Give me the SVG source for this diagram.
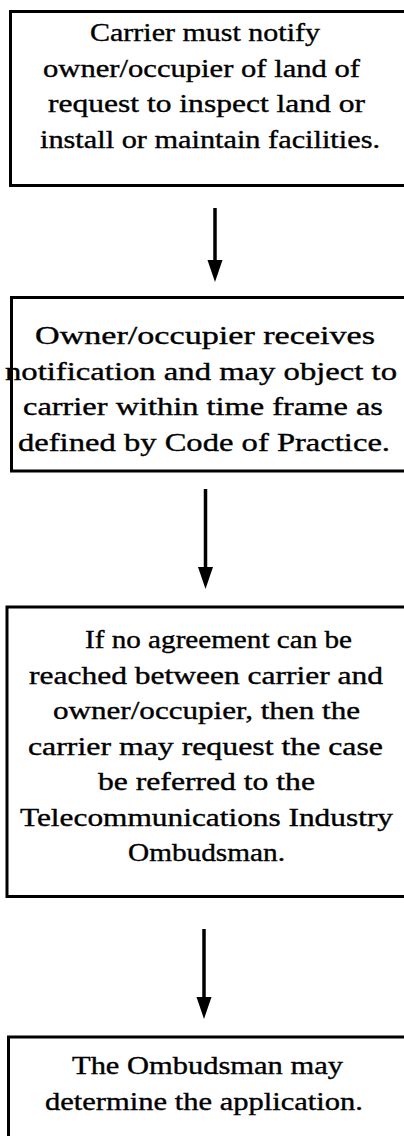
<svg xmlns="http://www.w3.org/2000/svg" width="404" height="1136" viewBox="0 0 404 1136">
<style>
.box{fill:#fff;stroke:#000;stroke-width:3}
.t{font-family:"Liberation Serif","Times New Roman",serif;font-size:24.5px;fill:#000;stroke:#000;stroke-width:0.35}
.c{stroke:#000;stroke-width:3.5;fill:none}
</style>
<defs>
<marker id="ah" markerUnits="userSpaceOnUse" markerWidth="24" markerHeight="16" refX="0" refY="7.5" orient="auto">
<path d="M0,0 L22,7.5 L0,15 Z" fill="#000"/>
</marker>
</defs>
<rect width="404" height="1136" fill="#fff"/>
<g id="connectors">
<line class="c" x1="215" y1="208" x2="215" y2="260" marker-end="url(#ah)"/>
<line class="c" x1="205.5" y1="489" x2="205.5" y2="567" marker-end="url(#ah)"/>
<line class="c" x1="204" y1="929" x2="204" y2="997" marker-end="url(#ah)"/>
</g>
<g id="node1">
<rect class="box" x="10.5" y="11.5" width="420" height="174"/>
<text class="t" x="90" y="41" textLength="230" lengthAdjust="spacingAndGlyphs">Carrier must notify</text>
<text class="t" x="43" y="76.5" textLength="317" lengthAdjust="spacingAndGlyphs">owner/occupier of land of</text>
<text class="t" x="48" y="112" textLength="317" lengthAdjust="spacingAndGlyphs">request to inspect land or</text>
<text class="t" x="40" y="147.5" textLength="340" lengthAdjust="spacingAndGlyphs">install or maintain facilities.</text>
</g>
<g id="node2">
<rect class="box" x="11.5" y="297.5" width="420" height="173.5"/>
<text class="t" x="35" y="344" textLength="340" lengthAdjust="spacingAndGlyphs">Owner/occupier receives</text>
<text class="t" x="5" y="379.5" textLength="392" lengthAdjust="spacingAndGlyphs">notification and may object to</text>
<text class="t" x="23" y="415" textLength="360" lengthAdjust="spacingAndGlyphs">carrier within time frame as</text>
<text class="t" x="18" y="450.5" textLength="372" lengthAdjust="spacingAndGlyphs">defined by Code of Practice.</text>
</g>
<g id="node3">
<rect class="box" x="7" y="607" width="420" height="289.5"/>
<text class="t" x="85" y="648" textLength="267" lengthAdjust="spacingAndGlyphs">If no agreement can be</text>
<text class="t" x="29" y="683.5" textLength="354" lengthAdjust="spacingAndGlyphs">reached between carrier and</text>
<text class="t" x="53" y="719" textLength="307" lengthAdjust="spacingAndGlyphs">owner/occupier, then the</text>
<text class="t" x="28" y="754.5" textLength="355" lengthAdjust="spacingAndGlyphs">carrier may request the case</text>
<text class="t" x="98" y="790" textLength="217" lengthAdjust="spacingAndGlyphs">be referred to the</text>
<text class="t" x="20" y="825.5" textLength="373" lengthAdjust="spacingAndGlyphs">Telecommunications Industry</text>
<text class="t" x="128" y="861" textLength="157" lengthAdjust="spacingAndGlyphs">Ombudsman.</text>
</g>
<g id="node4">
<rect class="box" x="8.5" y="1037" width="420" height="140"/>
<text class="t" x="72" y="1074" textLength="271" lengthAdjust="spacingAndGlyphs">The Ombudsman may</text>
<text class="t" x="45" y="1109.5" textLength="318" lengthAdjust="spacingAndGlyphs">determine the application.</text>
</g>
</svg>
